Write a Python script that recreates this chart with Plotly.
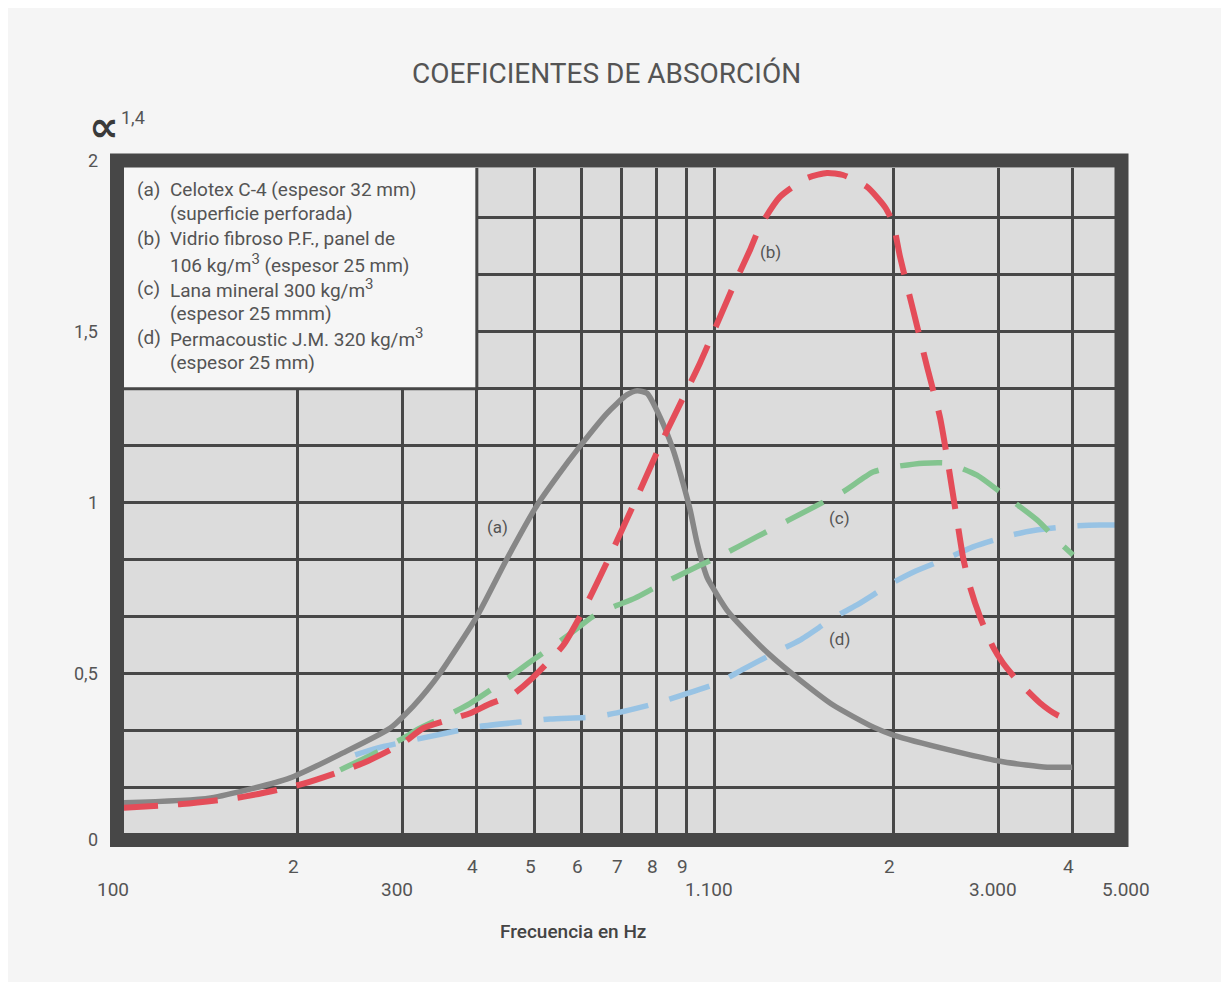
import math
import plotly.graph_objects as go

# ---------------- data ----------------
freq_a = [100, 143, 194, 238, 286, 313, 330, 347, 400, 449, 504, 545, 596, 662, 714, 743, 772,
          812, 854, 887, 912, 937, 973, 992, 1051, 1106, 1242, 1394, 1584, 1848, 2000, 2490,
          3070, 3620, 3990]
alpha_a = [0.12, 0.135, 0.193, 0.266, 0.339, 0.404, 0.45, 0.5, 0.666, 0.834, 0.99, 1.075, 1.165,
           1.262, 1.315, 1.327, 1.32, 1.25, 1.154, 1.057, 0.978, 0.881, 0.782, 0.755,
           0.685, 0.641, 0.553, 0.48, 0.407, 0.343, 0.319, 0.275, 0.24, 0.225, 0.225]

freq_b = [100, 128, 162, 204, 258, 301, 325, 390, 420, 458, 495, 559, 613, 680, 749, 825, 947,
          1076, 1149, 1194, 1290, 1432, 1547, 1646, 1806, 1936, 1997, 2052, 2158, 2278, 2394,
          2460, 2557, 2617, 2689, 2795, 2938, 3054, 3224, 3524, 3763, 4003]
alpha_b = [0.105, 0.117, 0.138, 0.176, 0.237, 0.296, 0.339, 0.383, 0.41, 0.436, 0.485, 0.583,
           0.707, 0.87, 1.03, 1.193, 1.408, 1.631, 1.739, 1.807, 1.895, 1.95, 1.965, 1.959,
           1.924, 1.865, 1.818, 1.719, 1.564, 1.397, 1.25, 1.133, 0.949, 0.84, 0.753, 0.665,
           0.577, 0.53, 0.48, 0.413, 0.378, 0.36]

freq_c = [236, 272, 301, 321, 363, 390, 446, 488, 570, 626, 677, 737, 800, 936, 1023, 1181,
          1506, 1646, 1848, 1997, 2243, 2460, 2762, 3019, 3483, 3763, 4003]
alpha_c = [0.217, 0.269, 0.31, 0.339, 0.383, 0.412, 0.48, 0.529, 0.612, 0.666, 0.694, 0.72,
           0.753, 0.812, 0.843, 0.9, 0.996, 1.031, 1.089, 1.104, 1.115, 1.115, 1.08, 1.031,
           0.949, 0.89, 0.846]

freq_d = [250, 272, 356, 400, 473, 531, 627, 687, 803, 884, 1023, 1114, 1281, 1394, 1596, 1738,
          1990, 2158, 2489, 2720, 3163, 3456, 4003, 4443, 4764]
alpha_d = [0.261, 0.281, 0.325, 0.343, 0.357, 0.366, 0.372, 0.384, 0.413, 0.436, 0.474, 0.51,
           0.565, 0.597, 0.665, 0.7, 0.764, 0.796, 0.84, 0.87, 0.905, 0.919, 0.931, 0.934, 0.934]

grid_freqs = [200, 300, 400, 500, 600, 700, 800, 900, 1000, 2000, 3000, 4000]
grid_alphas = [k / 6 for k in range(1, 12)]

xlabel_row1_vals = [200, 400, 500, 600, 700, 800, 900, 2000, 4000]
xlabel_row1_text = ["2", "4", "5", "6", "7", "8", "9", "2", "4"]
xlabel_row2_vals = [100, 300, 1000, 3000, 5000]
xlabel_row2_text = ["100", "300", "1.100", "3.000", "5.000"]

ylabel_vals = [0, 0.5, 1, 1.5, 2]
ylabel_text = ["0", "0,5", "1", "1,5", "2"]

curve_labels = ["(a)", "(b)", "(c)", "(d)"]
curve_label_freq = [434, 1246, 1627, 1627]
curve_label_alpha = [0.928, 1.733, 0.955, 0.600]

SUP3 = "<sup><span style='font-size:15px'>3</span></sup>"
legend_keys = ["(a)", "(b)", "(c)", "(d)"]
legend_lines = [
    "Celotex C-4 (espesor 32 mm)",
    "(superficie perforada)",
    "Vidrio fibroso P.F., panel de",
    "106 kg/m" + SUP3 + " (espesor 25 mm)",
    "Lana mineral 300 kg/m" + SUP3,
    "(espesor 25 mmm)",
    "Permacoustic J.M. 320 kg/m" + SUP3,
    "(espesor 25 mm)",
]

# ---------------- layout geometry (screen pixels) ----------------
OFF = 8                                        # page margin around the figure
W, H = 1229 - 2 * OFF, 990 - 2 * OFF
PL, PR, PT, PB = 124, 1115, 168, 833          # inner plot area (screen px)
X100, PX_DEC = 118, 596                       # screen px of 100 Hz, px per decade
Y0, PX_UNIT = 844, 341.5                      # screen px of alpha 0, px per unit

x_range = [2 + (PL - X100) / PX_DEC, 2 + (PR - X100) / PX_DEC]
y_range = [(Y0 - PB) / PX_UNIT, (Y0 - PT) / PX_UNIT]


def px_x(px):
    return (px - PL) / (PR - PL)


def px_y(py):
    return (PB - py) / (PB - PT)


def freq_to_paper(f):
    return px_x(X100 + PX_DEC * math.log10(f / 100.0))


TXT = "#545454"
FONT = "Roboto"
FRAME = "#474747"

fig = go.Figure()

series = [
    (freq_a, alpha_a, "#878787", 5.5, "solid"),
    (freq_d, alpha_d, "#98c3e4", 5.5, "42px,22px"),
    (freq_c, alpha_c, "#83c48f", 5.5, "42px,22px"),
    (freq_b, alpha_b, "#e44d59", 6, "40px,20px"),
]
for fx, fy, col, w, dash in series:
    fig.add_trace(go.Scatter(
        x=fx, y=fy, mode="lines",
        line=dict(color=col, width=w, dash=dash, shape="spline", smoothing=0.6),
        hoverinfo="skip", showlegend=False,
    ))

shapes = [
    # legend panel
    dict(type="rect", xref="x", yref="y", x0=80, x1=400, y0=8 / 6, y1=2.3,
         fillcolor="#f6f6f6", line=dict(color=FRAME, width=3), layer="above"),
    # thick frame
    dict(type="rect", xref="paper", yref="paper",
         x0=px_x(117), x1=px_x(1121.5), y0=px_y(840), y1=px_y(160.5),
         fillcolor="rgba(0,0,0,0)", line=dict(color=FRAME, width=14), layer="above"),
]

ann = []
ann.append(dict(text="COEFICIENTES DE ABSORCIÓN", xref="paper", yref="paper",
                x=px_x(606), y=px_y(73), showarrow=False, xanchor="center", yanchor="middle",
                font=dict(family=FONT, size=28, color=TXT)))
ann.append(dict(text="<b>∝</b>", xref="paper", yref="paper", x=px_x(104), y=px_y(126),
                showarrow=False, xanchor="center", yanchor="middle",
                font=dict(family="DejaVu Sans", size=42, color="#3a3a3a")))
ann.append(dict(text="1,4", xref="paper", yref="paper", x=px_x(119), y=px_y(118),
                showarrow=False, xanchor="left", yanchor="middle",
                font=dict(family=FONT, size=18, color=TXT)))

for v, t in zip(ylabel_vals, ylabel_text):
    ann.append(dict(text=t, xref="paper", yref="paper", x=px_x(100),
                    y=px_y(Y0 - PX_UNIT * v), showarrow=False,
                    xanchor="right", yanchor="middle", yshift=5 if v == 0 else 0,
                    font=dict(family=FONT, size=18, color=TXT)))

for v, t in zip(xlabel_row1_vals, xlabel_row1_text):
    ann.append(dict(text=t, xref="paper", yref="paper", x=freq_to_paper(v), y=px_y(866),
                    showarrow=False, xanchor="center", yanchor="middle", xshift=-4,
                    font=dict(family=FONT, size=19, color=TXT)))
for v, t in zip(xlabel_row2_vals, xlabel_row2_text):
    ann.append(dict(text=t, xref="paper", yref="paper", x=freq_to_paper(v), y=px_y(889),
                    showarrow=False, xanchor="center", yanchor="middle", xshift=-5,
                    font=dict(family=FONT, size=19, color=TXT)))

ann.append(dict(text="Frecuencia en Hz", xref="paper", yref="paper", x=px_x(573), y=px_y(931),
                showarrow=False, xanchor="center", yanchor="middle",
                font=dict(family=FONT, size=19, color="#444444", weight=500)))

line_y = [189, 213, 238, 263, 288, 313, 337, 362]
for i, t in enumerate(legend_lines):
    ann.append(dict(text=t, xref="paper", yref="paper", x=px_x(168), y=px_y(line_y[i]),
                    showarrow=False, xanchor="left", yanchor="middle",
                    font=dict(family=FONT, size=19, color=TXT)))
for i, k in enumerate(legend_keys):
    ann.append(dict(text=k, xref="paper", yref="paper", x=px_x(135), y=px_y(line_y[2 * i]),
                    showarrow=False, xanchor="left", yanchor="middle",
                    font=dict(family=FONT, size=19, color=TXT)))

for t, f, a in zip(curve_labels, curve_label_freq, curve_label_alpha):
    ann.append(dict(text=t, xref="x", yref="y", x=math.log10(f), y=a, showarrow=False,
                    xanchor="center", yanchor="middle",
                    font=dict(family=FONT, size=17, color=TXT)))

fig.update_layout(
    width=W, height=H,
    margin=dict(l=PL - OFF, r=W - (PR - OFF), t=PT - OFF, b=H - (PB - OFF), pad=0),
    paper_bgcolor="#f5f5f5", plot_bgcolor="#dcdcdc",
    showlegend=False, hovermode=False,
    shapes=shapes, annotations=ann,
    xaxis=dict(type="log", range=x_range, tickvals=grid_freqs, showticklabels=False,
               ticks="", showgrid=True, gridcolor=FRAME, gridwidth=3, zeroline=False,
               showline=False, fixedrange=True),
    yaxis=dict(range=y_range, tickvals=grid_alphas, showticklabels=False, ticks="",
               showgrid=True, gridcolor=FRAME, gridwidth=3, zeroline=False, showline=False,
               fixedrange=True),
)

fig.write_html("out.html")
